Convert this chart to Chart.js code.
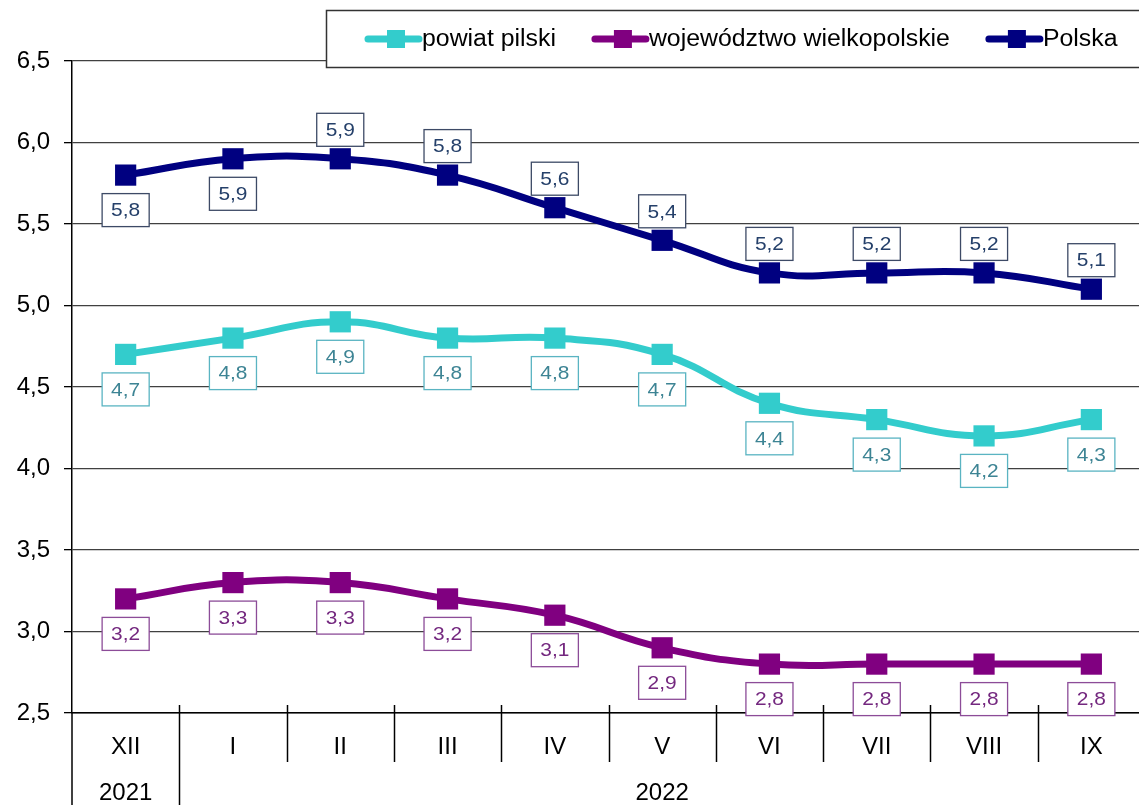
<!DOCTYPE html>
<html>
<head>
<meta charset="utf-8">
<script src="https://cdn.jsdelivr.net/npm/chart.js@4/dist/chart.umd.min.js"></script>
<style>
  html, body { margin: 0; padding: 0; background: #fff; overflow: hidden; }
  #wrap { width: 1139px; height: 805px; overflow: hidden; }
  canvas { display: block; }
</style>
</head>
<body>
<div id="wrap"><canvas id="chart" width="1160" height="805" style="width:1160px;height:805px"></canvas></div>
<script>
const months = ["XII", "I", "II", "III", "IV", "V", "VI", "VII", "VIII", "IX"];
const yearLabels = ["2021", "2022"];
const yearStart = [0, 1];
const yearEnd = [0, 9];

const powiat = [4.7, 4.8, 4.9, 4.8, 4.8, 4.7, 4.4, 4.3, 4.2, 4.3];
const wojewodztwo = [3.2, 3.3, 3.3, 3.2, 3.1, 2.9, 2.8, 2.8, 2.8, 2.8];
const polska = [5.8, 5.9, 5.9, 5.8, 5.6, 5.4, 5.2, 5.2, 5.2, 5.1];

const seriesNames = ["powiat pilski", "województwo wielkopolskie", "Polska"];

// where the value boxes sit relative to the point
const polskaSide = ["below", "below", "above", "above", "above", "above", "above", "above", "above", "above"];
const allBelow = months.map(() => "below");

const FONT = "'Liberation Sans', Arial, sans-serif";
const fmt = v => v.toFixed(1).replace(".", ",");

function series(label, data, color, labelText, labelBorder, sides) {
  return {
    label, data,
    borderColor: color,
    backgroundColor: color,
    borderWidth: 7,
    tension: 0.45,
    pointStyle: "rect",
    pointRadius: 15,
    pointHoverRadius: 15,
    pointBorderWidth: 0,
    labelText, labelBorder, sides,
  };
}

// text a little wider than the font, like the original
function wideText(ctx, txt, x, y, sx) {
  ctx.save();
  ctx.translate(x, y);
  ctx.scale(sx, 1);
  ctx.fillText(txt, 0, 0);
  ctx.restore();
}

const valueBoxes = {
  id: "valueBoxes",
  afterDatasetsDraw(chart) {
    const ctx = chart.ctx;
    ctx.save();
    ctx.font = "19px " + FONT;
    ctx.textAlign = "center";
    ctx.textBaseline = "middle";
    chart.data.datasets.forEach((ds, di) => {
      const meta = chart.getDatasetMeta(di);
      meta.data.forEach((pt, i) => {
        const txt = fmt(ds.data[i]);
        const w = ctx.measureText(txt).width * 1.1 + 18;
        const h = 33;
        const cy = ds.sides[i] === "above" ? pt.y - 29 : pt.y + 35;
        const cx = pt.x;
        ctx.fillStyle = "#fff";
        ctx.fillRect(cx - w / 2, cy - h / 2, w, h);
        ctx.strokeStyle = ds.labelBorder;
        ctx.lineWidth = 1.3;
        ctx.strokeRect(cx - w / 2, cy - h / 2, w, h);
        ctx.fillStyle = ds.labelText;
        wideText(ctx, txt, cx, cy + 1, 1.1);
      });
    });
    ctx.restore();
  }
};

const decor = {
  id: "decor",
  afterDraw(chart) {
    const { ctx, chartArea: a, scales: { x } } = chart;
    const half = (x.getPixelForValue(1) - x.getPixelForValue(0)) / 2;
    ctx.save();
    ctx.strokeStyle = "#000";
    ctx.lineWidth = 1.5;
    for (let i = 1; i < months.length; i++) {
      const px = Math.round(x.getPixelForValue(i) - half) + 0.5;
      const isYear = yearStart.includes(i);
      ctx.beginPath();
      ctx.moveTo(px, a.bottom - 8);
      ctx.lineTo(px, isYear ? chart.height : a.bottom + 49);
      ctx.stroke();
    }
    ctx.beginPath();
    ctx.moveTo(a.left, a.bottom);
    ctx.lineTo(a.left, chart.height);
    ctx.stroke();

    ctx.fillStyle = "#000";
    ctx.font = "24px " + FONT;
    ctx.textAlign = "center";
    ctx.textBaseline = "middle";
    yearLabels.forEach((t, k) => {
      const cx = (x.getPixelForValue(yearStart[k]) + x.getPixelForValue(yearEnd[k])) / 2;
      ctx.fillText(t, cx, a.bottom + 80);
    });

    // legend
    const top = 10, bottom = 67, left = 326;
    ctx.fillStyle = "#fff";
    ctx.fillRect(left, top, chart.width - left + 10, bottom - top);
    ctx.strokeStyle = "#333";
    ctx.lineWidth = 1.5;
    ctx.strokeRect(left + 0.5, top + 0.5, chart.width, bottom - top);
    ctx.font = "23px " + FONT;
    ctx.textAlign = "left";
    let mx = 365;
    const my = 39;
    chart.data.datasets.forEach(ds => {
      ctx.strokeStyle = ds.borderColor;
      ctx.lineWidth = 7;
      ctx.lineCap = "round";
      ctx.beginPath();
      ctx.moveTo(mx + 3, my);
      ctx.lineTo(mx + 54, my);
      ctx.stroke();
      ctx.fillStyle = ds.borderColor;
      ctx.fillRect(mx + 22, my - 9, 18, 18);
      ctx.fillStyle = "#000";
      wideText(ctx, ds.label, mx + 57, my + 1, 1.08);
      mx += 57 + ctx.measureText(ds.label).width * 1.08 + 36;
    });
    ctx.restore();
  }
};

new Chart(document.getElementById("chart"), {
  type: "line",
  data: {
    labels: months,
    datasets: [
      series(seriesNames[0], powiat, "#33CCCC", "#3d8494", "#5ab4c2", allBelow),
      series(seriesNames[1], wojewodztwo, "#800080", "#74287f", "#8c4c98", allBelow),
      series(seriesNames[2], polska, "#000080", "#25406a", "#3d4a66", polskaSide),
    ]
  },
  options: {
    responsive: false,
    animation: false,
    devicePixelRatio: 1,
    layout: { padding: { top: 61, right: 8, bottom: 0, left: 0 } },
    plugins: { legend: { display: false }, tooltip: { enabled: false } },
    scales: {
      x: {
        offset: true,
        grid: { display: false, drawTicks: false },
        border: { display: true, color: "#000", width: 1.5 },
        ticks: { color: "#000", font: { family: FONT, size: 24 }, padding: 20, maxRotation: 0, autoSkip: false },
        afterFit(s) { s.height = 92; }
      },
      y: {
        min: 2.5, max: 6.5,
        grid: { color: "#404040", lineWidth: 1.3, tickLength: 8, tickColor: "#000" },
        border: { display: true, color: "#000", width: 1.5 },
        ticks: { stepSize: 0.5, color: "#000", font: { family: FONT, size: 24 }, padding: 14, callback: v => fmt(v) },
        afterFit(s) { s.width = 72; }
      }
    }
  },
  plugins: [valueBoxes, decor]
});
</script>
</body>
</html>
